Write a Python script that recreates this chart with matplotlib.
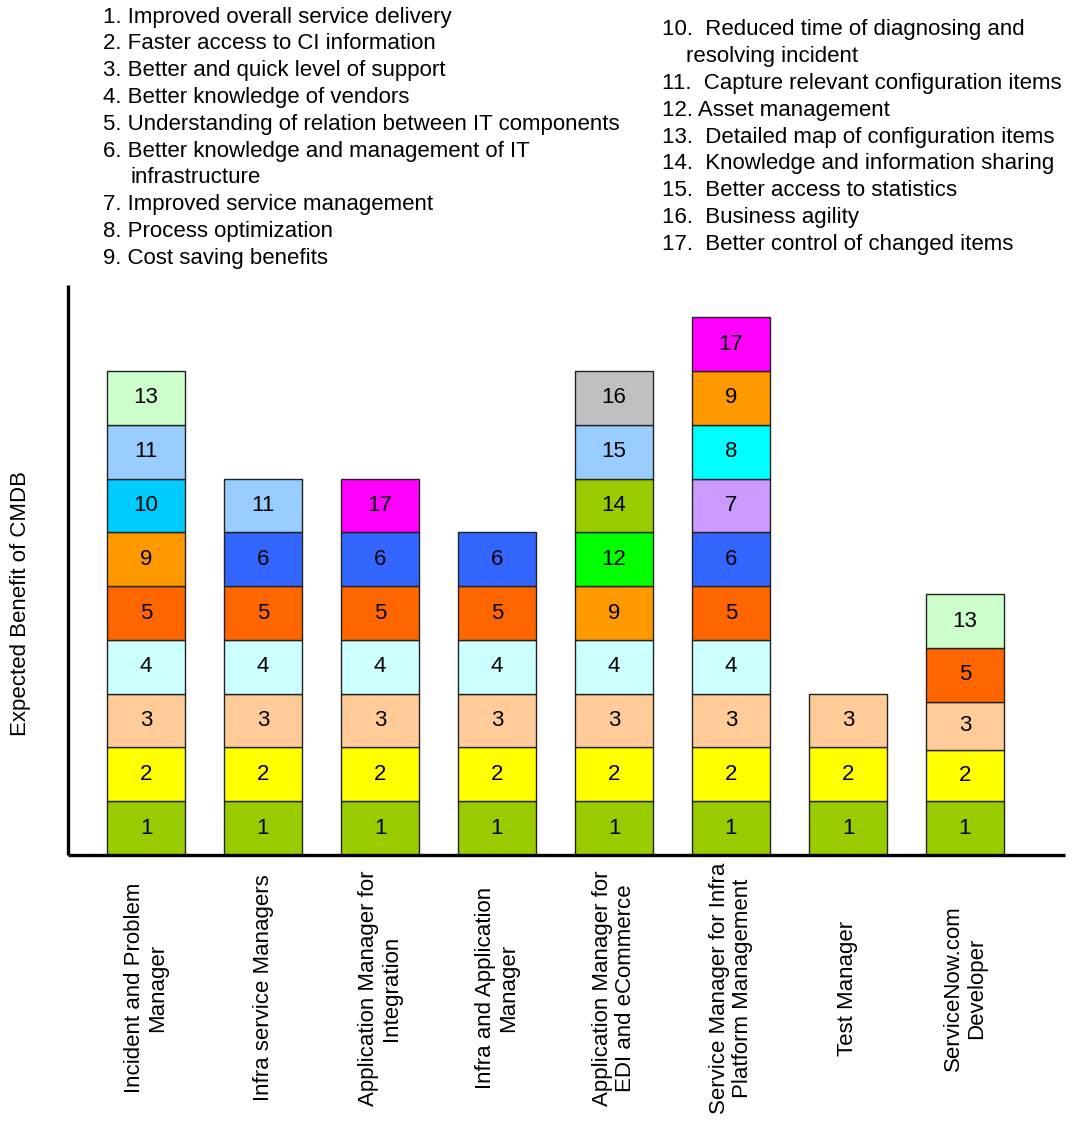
import matplotlib
matplotlib.use("Agg")
import matplotlib.pyplot as plt
import matplotlib.transforms as mtransforms

plt.rcParams['font.family'] = ['Liberation Sans', 'DejaVu Sans']

# Roles surveyed (x axis)
roles = [
    "Incident and Problem\nManager",
    "Infra service Managers",
    "Application Manager for\nIntegration",
    "Infra and Application\nManager",
    "Application Manager for\nEDI and eCommerce",
    "Service Manager for Infra\nPlatform Management",
    "Test Manager",
    "ServiceNow.com\nDeveloper",
]

# Benefit numbers stacked in each role's bar, bottom to top
role_benefits = [
    [1, 2, 3, 4, 5, 9, 10, 11, 13],
    [1, 2, 3, 4, 5, 6, 11],
    [1, 2, 3, 4, 5, 6, 17],
    [1, 2, 3, 4, 5, 6],
    [1, 2, 3, 4, 9, 12, 14, 15, 16],
    [1, 2, 3, 4, 5, 6, 7, 8, 9, 17],
    [1, 2, 3],
    [1, 2, 3, 5, 13],
]

# Height of each stacked block
role_sizes = [
    [1] * 9,
    [1] * 7,
    [1] * 7,
    [1] * 6,
    [1] * 9,
    [1] * 10,
    [1] * 3,
    [1.0, 0.95, 0.9, 1.0, 1.0],
]

# Benefit descriptions (numbered list above the chart)
benefit_names_left = [
    "1. Improved overall service delivery",
    "2. Faster access to CI information",
    "3. Better and quick level of support",
    "4. Better knowledge of vendors",
    "5. Understanding of relation between IT components",
    "6. Better knowledge and management of IT\n    infrastructure",
    "7. Improved service management",
    "8. Process optimization",
    "9. Cost saving benefits",
]
benefit_names_right = [
    "10.  Reduced time of diagnosing and\n  resolving incident",
    "11.  Capture relevant configuration items",
    "12. Asset management",
    "13.  Detailed map of configuration items",
    "14.  Knowledge and information sharing",
    "15.  Better access to statistics",
    "16.  Business agility",
    "17.  Better control of changed items",
]

# Fill colour for each benefit number
benefit_colors = {
    1: "#99CC00", 2: "#FFFF00", 3: "#FFCC99", 4: "#CCFFFF", 5: "#FF6600",
    6: "#3366FF", 7: "#CC99FF", 8: "#00FFFF", 9: "#FF9900", 10: "#00CCFF",
    11: "#99CCFF", 12: "#00FF00", 13: "#CCFFCC", 14: "#99CC00", 15: "#99CCFF",
    16: "#C0C0C0", 17: "#FF00FF",
}

W, H = 1072, 1137
FS = 16
fig = plt.figure(figsize=(W / 100, H / 100), dpi=100)


def fx(x):
    return x / W


def fy(y):
    return 1 - y / H


ax = fig.add_axes([fx(68), fy(855), fx(1065) - fx(68), fy(285) - fy(855)])

bar_w = 78 / 117
for i, (nums, sizes) in enumerate(zip(role_benefits, role_sizes)):
    bottom = 0.0
    for n, s in zip(nums, sizes):
        ax.bar(i, s, bottom=bottom, width=bar_w, color=benefit_colors[n],
               edgecolor="#222222", linewidth=1.0, zorder=2)
        ax.text(i, bottom + s / 2, str(n), ha="center", va="center",
                fontsize=FS, color="black", zorder=3)
        bottom += s

ax.set_xlim((68 - 146) / 117, (1065 - 146) / 117)
ax.set_ylim(0, 10.6)
ax.set_xticks([])
ax.set_yticks([])
for side in ("top", "right"):
    ax.spines[side].set_visible(False)
for side in ("left", "bottom"):
    ax.spines[side].set_linewidth(2.4)
    ax.spines[side].set_color("black")
    ax.spines[side].set_capstyle("butt")

# Rotated role labels under each bar
trans = mtransforms.blended_transform_factory(ax.transData, fig.transFigure)
for i, r in enumerate(roles):
    ax.text(i, fy(988), r, rotation=90, ha="center", va="center",
            multialignment="center", fontsize=FS, transform=trans,
            linespacing=1.1)

fig.text(fx(21), fy(603), "Expected Benefit of CMDB", rotation=90,
         ha="center", va="center", fontsize=FS)

# Numbered benefit list
line_h = 26.8


def draw_list(items, x0, y0, indent_x):
    y = y0
    for item in items:
        lines = item.split("\n")
        for k, line in enumerate(lines):
            x = x0 if k == 0 else indent_x
            fig.text(fx(x), fy(y), line.strip(), ha="left", va="center",
                     fontsize=FS)
            y += line_h


draw_list(benefit_names_left, 103, 17, 130)
draw_list(benefit_names_right, 662, 30, 686)

fig.savefig("out.png", dpi=100, facecolor="white")
